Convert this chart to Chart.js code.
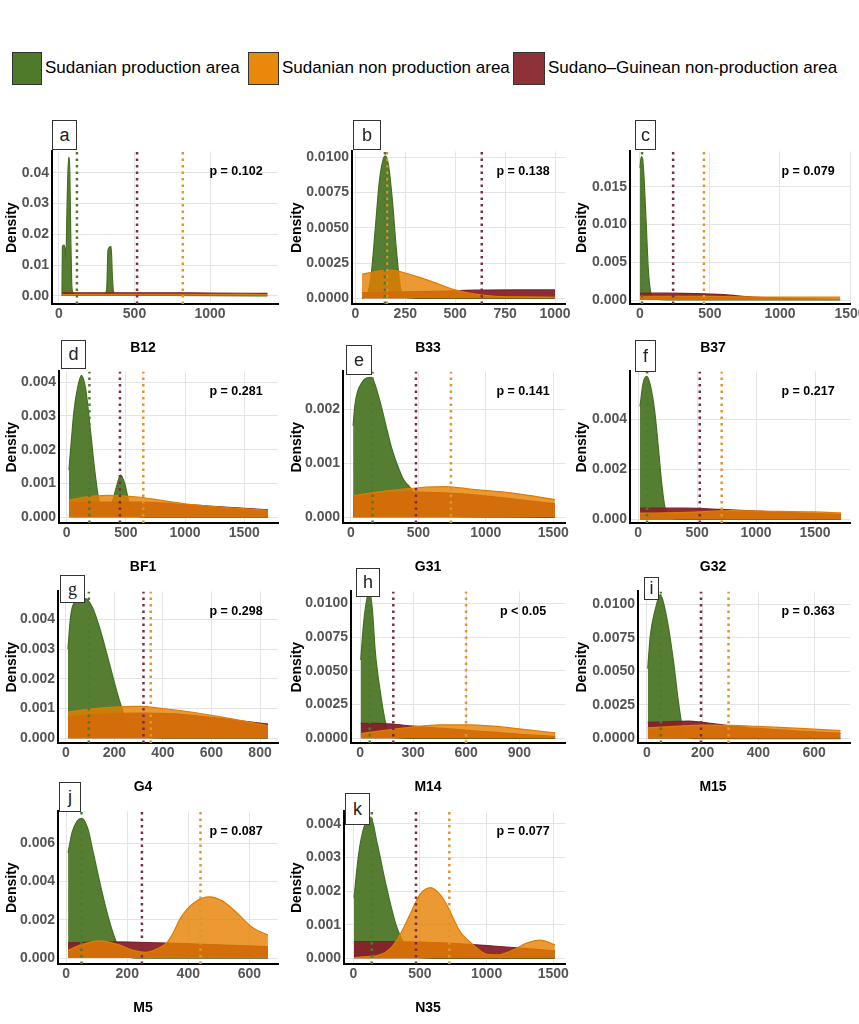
<!DOCTYPE html>
<html>
<head>
<meta charset="utf-8">
<script src="https://cdn.jsdelivr.net/npm/chart.js"></script>
<style>
  html, body { margin: 0; padding: 0; width: 859px; height: 1024px; overflow: hidden; background: #fff;
    font-family: "Liberation Sans", Arial, sans-serif; }
  .panel { position: absolute; }
  .tag { position: absolute; background: #fff; border: 1.5px solid #333; box-sizing: border-box;
    display: flex; align-items: center; justify-content: center; font-size: 18px; color: #222; z-index: 5; }
  .key { position: absolute; top: 52px; height: 33px; box-sizing: border-box; border: 1px solid #333; }
  .keytext { position: absolute; top: 58px; font-size: 17px; line-height: 20px; color: #000; white-space: nowrap; }
</style>
</head>
<body>
<div class="key" style="left:12px;width:30px;background:#4f7a2a"></div>
<div class="keytext" style="left:45px">Sudanian production area</div>
<div class="key" style="left:248px;width:31px;background:#e8890c"></div>
<div class="keytext" style="left:282px">Sudanian non production area</div>
<div class="key" style="left:513px;width:32px;background:#8e3238"></div>
<div class="keytext" style="left:548px">Sudano–Guinean non-production area</div>

<script>
// ---- data ----
const panelLetters = ['a', 'b', 'c', 'd', 'e', 'f', 'g', 'h', 'i', 'j', 'k'];
const markerNames = ['B12', 'B33', 'B37', 'BF1', 'G31', 'G32', 'G4', 'M14', 'M15', 'M5', 'N35'];
const pValues = ['p = 0.102', 'p = 0.138', 'p = 0.079', 'p = 0.281', 'p = 0.141', 'p = 0.217',
                 'p = 0.298', 'p < 0.05', 'p = 0.363', 'p = 0.087', 'p = 0.077'];

// group means (dotted lines): [production, non production, Sudano-Guinean]
const aMeans = [119, 820, 517];
const bMeans = [148, 158, 633];
const cMeans = [15, 457, 237];
const dMeans = [192, 647, 450];
const eMeans = [160, 741, 482];
const fMeans = [75, 708, 522];
const gMeans = [95, 350, 320];
const hMeans = [55, 599, 188];
const iMeans = [50, 293, 194];
const jMeans = [50, 440, 248];
const kMeans = [138, 720, 470];

// density curves [x, density]
const aGreen = [[20,0],[23,0.016],[32,0.0165],[40,0.0155],[46,0.012],[54,0.03],[64,0.045],[72,0.04],[78,0.02],[84,0.005],[92,0.001],[120,0.0004],[300,0.0004],[316,0.002],[325,0.015],[345,0.016],[354,0.006],[362,0.001],[380,0.0002],[1380,0]];
const aOrange = [[22,0.0004],[400,0.0005],[900,0.0005],[1380,0.0004]];
const aMaroon = [[22,0.001],[500,0.001],[1000,0.0009],[1380,0.0008]];

const bGreen = [[33,0],[60,0.0003],[80,0.0018],[100,0.005],[120,0.0083],[140,0.0099],[150,0.0101],[165,0.0095],[185,0.007],[205,0.0035],[225,0.0008],[250,0.0001],[300,0],[1000,0]];
const bOrange = [[33,0.0017],[100,0.0019],[170,0.002],[250,0.0018],[340,0.0014],[420,0.001],[500,0.0006],[600,0.0003],[700,0.00015],[850,0.0001],[1000,0.00008]];
const bMaroon = [[33,0.0004],[200,0.00045],[400,0.0005],[600,0.00058],[800,0.0006],[1000,0.0006]];

const cGreen = [[0,0.0175],[10,0.019],[20,0.0185],[30,0.016],[45,0.01],[60,0.004],[75,0.0012],[90,0.0003],[150,0.00005],[400,0],[1430,0]];
const cOrange = [[0,0.0005],[300,0.0005],[600,0.00045],[900,0.0004],[1200,0.0004],[1430,0.0004]];
const cMaroon = [[0,0.0009],[200,0.0009],[400,0.00085],[600,0.0007],[800,0.0004],[1000,0.00025],[1200,0.00015],[1430,0.0001]];

const dGreen = [[19,0.0014],[40,0.0023],[60,0.0031],[90,0.0038],[125,0.0042],[160,0.0038],[200,0.0026],[240,0.0013],[280,0.0004],[330,0.00025],[380,0.0004],[420,0.0009],[456,0.00125],[490,0.001],[530,0.0004],[580,0.0001],[650,0],[1701,0]];
const dOrange = [[19,0.0005],[150,0.0006],[350,0.00065],[600,0.0006],[800,0.0005],[1000,0.0004],[1300,0.0003],[1701,0.0002]];
const dMaroon = [[19,0.00043],[300,0.00045],[600,0.00045],[900,0.0004],[1200,0.00033],[1701,0.00022]];

const eGreen = [[16,0.0017],[30,0.0021],[80,0.0025],[150,0.0026],[210,0.0022],[260,0.0017],[300,0.0013],[340,0.001],[390,0.0007],[440,0.00055],[500,0.0003],[600,0.0001],[700,0.00002],[1512,0]];
const eOrange = [[16,0.0004],[300,0.0005],[500,0.00055],[700,0.00057],[900,0.00052],[1200,0.00045],[1512,0.00033]];
const eMaroon = [[16,0.0004],[250,0.00045],[500,0.00047],[800,0.00044],[1100,0.00037],[1512,0.00025]];

const fGreen = [[15,0.0045],[40,0.0054],[70,0.0057],[100,0.0054],[140,0.0043],[170,0.0029],[200,0.0014],[230,0.0004],[270,0.0001],[350,0],[1720,0]];
const fOrange = [[15,0.00025],[400,0.00028],[800,0.00035],[1200,0.00032],[1500,0.0003],[1720,0.00026]];
const fMaroon = [[15,0.00045],[400,0.00045],[700,0.0004],[1000,0.00033],[1300,0.00027],[1720,0.0002]];

const gGreen = [[9,0.003],[20,0.0041],[40,0.0046],[80,0.0047],[110,0.0044],[140,0.0037],[180,0.0025],[220,0.0013],[260,0.0004],[300,0.0001],[400,0],[833,0]];
const gOrange = [[9,0.00088],[100,0.00098],[200,0.00105],[300,0.00107],[400,0.001],[500,0.0009],[650,0.0007],[833,0.00042]];
const gMaroon = [[9,0.00072],[150,0.0008],[300,0.00085],[450,0.00082],[600,0.0007],[833,0.00048]];

const hGreen = [[4,0.0058],[20,0.0085],[40,0.0104],[55,0.0108],[70,0.0095],[85,0.0066],[100,0.0048],[115,0.0034],[140,0.0014],[165,0.0003],[200,0.00005],[300,0],[1103,0]];
const hOrange = [[4,0.00035],[150,0.0006],[300,0.00085],[450,0.001],[600,0.001],[750,0.0009],[900,0.0007],[1103,0.0004]];
const hMaroon = [[4,0.0011],[100,0.0011],[180,0.00105],[300,0.0009],[450,0.00075],[600,0.0006],[750,0.00045],[900,0.0003],[1103,0.00015]];

const iGreen = [[3,0.0052],[12,0.0076],[30,0.0096],[48,0.0107],[70,0.0091],[95,0.0058],[112,0.0029],[125,0.0011],[140,0.0002],[170,0],[695,0]];
const iOrange = [[3,0.0008],[100,0.0009],[200,0.001],[300,0.00098],[400,0.0009],[550,0.00075],[695,0.0006]];
const iMaroon = [[3,0.0012],[80,0.00125],[150,0.0013],[200,0.0012],[300,0.00095],[400,0.00075],[550,0.00055],[695,0.0004]];

const jGreen = [[6,0.0055],[20,0.0066],[50,0.0073],[70,0.0068],[90,0.0054],[115,0.0036],[140,0.002],[165,0.0008],[190,0.0002],[230,0],[661,0]];
const jOrange = [[6,0.0004],[50,0.0007],[110,0.0009],[170,0.0007],[220,0.0004],[260,0.0003],[300,0.0005],[330,0.0008],[350,0.0013],[375,0.0021],[420,0.0029],[470,0.0032],[510,0.003],[550,0.0025],[610,0.0016],[661,0.0012]];
const jMaroon = [[6,0.0008],[150,0.00085],[300,0.0008],[450,0.00072],[661,0.0006]];

const kGreen = [[5,0.0018],[40,0.0031],[80,0.0039],[130,0.0042],[180,0.0034],[250,0.0021],[320,0.001],[400,0.0003],[470,0.00005],[600,0],[1512,0]];
const kOrange = [[5,0.00002],[100,0.00005],[200,0.0001],[280,0.0003],[350,0.0007],[425,0.0013],[500,0.0019],[580,0.0021],[650,0.0019],[700,0.0016],[800,0.0008],[900,0.0004],[1000,0.00012],[1080,0.0001],[1200,0.00025],[1300,0.00045],[1400,0.00054],[1512,0.0004]];
const kMaroon = [[5,0.0005],[300,0.0005],[500,0.00048],[800,0.00043],[1100,0.00035],[1512,0.00022]];

// axis limits and tick labels
const xLimits = [[-46,1450],[-17,1050],[-71,1500],[-65,1785],[-59,1587],[-70,1797],[-32,874],[-51,1158],[-32,729],[-27,694],[-70,1588]];
const yLimits = [[-0.00266,0.0469],[-0.0004,0.01042],[-0.00053,0.01969],[-0.00017,0.00432],[-0.000105,0.00271],
                 [-0.00014,0.0059],[-0.00016,0.00494],[-0.00035,0.01088],[-0.00033,0.01094],[-0.00031,0.00766],[-0.00017,0.00437]];
const xTicks = [[0,500,1000],[0,250,500,750,1000],[0,500,1000,1500],[0,500,1000,1500],[0,500,1000,1500],[0,500,1000,1500],
                [0,200,400,600,800],[0,300,600,900],[0,200,400,600],[0,200,400,600],[0,500,1000,1500]];
const yTicks = [[0,0.01,0.02,0.03,0.04],[0,0.0025,0.005,0.0075,0.01],[0,0.005,0.01,0.015],[0,0.001,0.002,0.003,0.004],
                [0,0.001,0.002],[0,0.002,0.004],[0,0.001,0.002,0.003,0.004],[0,0.0025,0.005,0.0075,0.01],
                [0,0.0025,0.005,0.0075,0.01],[0,0.002,0.004,0.006],[0,0.001,0.002,0.003,0.004]];
const yDecimals = [2, 4, 3, 3, 3, 3, 3, 4, 4, 3, 3];

const curves = [[aGreen,aOrange,aMaroon],[bGreen,bOrange,bMaroon],[cGreen,cOrange,cMaroon],[dGreen,dOrange,dMaroon],
                [eGreen,eOrange,eMaroon],[fGreen,fOrange,fMaroon],[gGreen,gOrange,gMaroon],[hGreen,hOrange,hMaroon],
                [iGreen,iOrange,iMaroon],[jGreen,jOrange,jMaroon],[kGreen,kOrange,kMaroon]];
const means = [aMeans,bMeans,cMeans,dMeans,eMeans,fMeans,gMeans,hMeans,iMeans,jMeans,kMeans];

// ---- layout ----
const colLeft = [0, 285, 570];
const colRight = [278, 565, 850];
const rowTop = [150, 370, 590, 810];
const rowBottom = [304, 523, 743, 964];
const plotLeft = [52, 352, 630, 59, 343, 630, 58, 351, 638, 58, 344];
const tagBoxes = [[52,120,25,30],[353,120,28,30],[635,120,21,30],[61,340,25,29],[346,345,26,30],[635,340,21,32],
                  [60,575,25,28],[356,568,24,29],[644,577,15,23],[59,782,22,30],[345,793,25,32]];

const fillColors = ['rgba(72,116,34,0.93)', 'rgba(230,128,0,0.8)', 'rgba(134,34,42,0.95)'];
const lineColors = ['rgb(70,110,35)', 'rgb(226,124,0)', 'rgb(126,32,42)'];
const meanColors = ['#4e7a2e', '#e0952e', '#7d2a45'];
const drawOrder = [3, 1, 2];  // green at the bottom, orange on top

Chart.defaults.font.family = '"Liberation Sans", Arial, sans-serif';

const panelText = {
  id: 'panelText',
  afterDatasetsDraw(chart, args, opts) {
    const { ctx, chartArea } = chart;
    ctx.save();
    ctx.fillStyle = '#000';
    ctx.textAlign = 'center';
    ctx.textBaseline = 'middle';
    ctx.font = 'bold 12.5px "Liberation Sans", Arial, sans-serif';
    ctx.fillText(opts.p, chartArea.right - 42, chartArea.top + 20);
    ctx.font = 'bold 14px "Liberation Sans", Arial, sans-serif';
    ctx.fillText(opts.label, 143, chartArea.bottom + 44);
    ctx.restore();
  }
};

const padTop = 10, xAxisH = 20, padBottom = 40, padRight = 22;

panelLetters.forEach((letter, i) => {
  const col = i % 3, row = Math.floor(i / 3);
  const w = colRight[col] - colLeft[col] + padRight;
  const h = rowBottom[row] - rowTop[row] + padTop + xAxisH + padBottom;

  const wrap = document.createElement('div');
  wrap.className = 'panel';
  wrap.style.left = colLeft[col] + 'px';
  wrap.style.top = (rowTop[row] - padTop) + 'px';
  wrap.style.width = w + 'px';
  wrap.style.height = h + 'px';
  const canvas = document.createElement('canvas');
  canvas.width = w; canvas.height = h;
  canvas.style.width = w + 'px'; canvas.style.height = h + 'px';
  wrap.appendChild(canvas);
  document.body.appendChild(wrap);

  const tb = tagBoxes[i];
  const tag = document.createElement('div');
  tag.className = 'tag';
  tag.style.left = tb[0] + 'px'; tag.style.top = tb[1] + 'px';
  tag.style.width = tb[2] + 'px'; tag.style.height = tb[3] + 'px';
  if (letter === 'g') tag.style.fontFamily = '"Liberation Serif", serif';
  tag.textContent = letter;
  document.body.appendChild(tag);

  const [yMin, yMax] = yLimits[i];
  const datasets = [];
  curves[i].forEach((pts, g) => {
    datasets.push({
      data: pts.map(([x, y]) => ({ x, y })),
      borderColor: lineColors[g],
      backgroundColor: fillColors[g],
      borderWidth: 1.2,
      fill: 'origin',
      pointRadius: 0,
      cubicInterpolationMode: 'monotone',
      order: drawOrder[g]
    });
  });
  means[i].forEach((m, g) => {
    datasets.push({
      data: [{ x: m, y: yMin }, { x: m, y: yMax }],
      borderColor: meanColors[g],
      borderWidth: 2.5,
      borderDash: [2.5, 4],
      pointRadius: 0,
      fill: false,
      order: 0
    });
  });

  const tickFont = { size: 14, weight: 'bold' };
  new Chart(canvas, {
    type: 'line',
    data: { datasets },
    options: {
      responsive: false,
      animation: false,
      layout: { padding: { top: padTop, right: padRight, bottom: padBottom, left: 0 } },
      plugins: {
        legend: { display: false },
        tooltip: { enabled: false },
        panelText: { p: pValues[i], label: markerNames[i] }
      },
      scales: {
        x: {
          type: 'linear',
          min: xLimits[i][0], max: xLimits[i][1],
          afterBuildTicks: s => { s.ticks = xTicks[i].map(v => ({ value: v })); },
          afterFit: s => { s.height = xAxisH; },
          ticks: { font: tickFont, color: '#555', padding: 2, autoSkip: false, maxRotation: 0, callback: v => String(v) },
          grid: { color: '#e4e4e4', drawTicks: false },
          border: { color: '#000', width: 2 }
        },
        y: {
          min: yMin, max: yMax,
          afterBuildTicks: s => { s.ticks = yTicks[i].map(v => ({ value: v })); },
          afterFit: s => { s.width = plotLeft[i] - colLeft[col]; },
          ticks: { font: tickFont, color: '#555', padding: 3, callback: v => v.toFixed(yDecimals[i]) },
          grid: { color: '#e4e4e4', drawTicks: false },
          border: { color: '#000', width: 2 },
          title: { display: true, text: 'Density', color: '#000', font: { size: 14, weight: 'bold' }, padding: { top: 4, bottom: 0 } }
        }
      }
    },
    plugins: [panelText]
  });
});
</script>
</body>
</html>
